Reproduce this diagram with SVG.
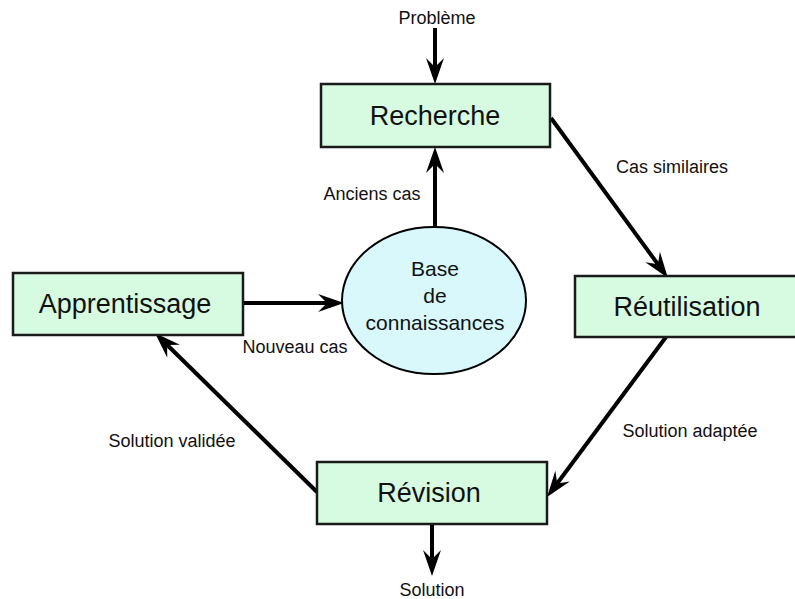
<svg xmlns="http://www.w3.org/2000/svg" width="795" height="599" viewBox="0 0 795 599">
<style>
.box{fill:#d6fbe0;stroke:#1a1a1a;stroke-width:2.5}
.ell{fill:#d8f8fc;stroke:#000;stroke-width:2}
.big{font-family:"Liberation Sans",Arial,sans-serif;font-size:27px;fill:#111;text-anchor:middle}
.mid{font-family:"Liberation Sans",Arial,sans-serif;font-size:21px;fill:#111;text-anchor:middle}
.lbl{font-family:"Liberation Sans",Arial,sans-serif;font-size:18px;fill:#111;text-anchor:middle}
.con{stroke:#000;stroke-width:4;fill:none;marker-end:url(#ah)}
</style>
<defs>
<marker id="ah" markerUnits="userSpaceOnUse" viewBox="-12 -10 28 20" refX="0" refY="0" markerWidth="28" markerHeight="20" orient="auto">
<path d="M15,0 L-11,-9 L-2,0 L-11,9 Z" fill="#000"/>
</marker>
</defs>
<rect width="795" height="599" fill="#fff"/>
<g id="connectors">
<line class="con" x1="435" y1="28" x2="435" y2="69"/>
<line class="con" x1="435" y1="227" x2="435" y2="162"/>
<line class="con" x1="551" y1="118" x2="659.1" y2="265.9"/>
<line class="con" x1="243" y1="303" x2="329" y2="303"/>
<line class="con" x1="666" y1="337" x2="556" y2="485"/>
<line class="con" x1="317" y1="492" x2="165.7" y2="343.5"/>
<line class="con" x1="432" y1="524" x2="432" y2="561"/>
</g>
<g id="recherche">
<rect class="box" x="321" y="84" width="229" height="63"/>
<text class="big" x="435" y="125">Recherche</text>
</g>
<g id="apprentissage">
<rect class="box" x="13" y="273" width="230" height="62"/>
<text class="big" x="125" y="313">Apprentissage</text>
</g>
<g id="reutilisation">
<rect class="box" x="575" y="276" width="224" height="61"/>
<text class="big" x="687" y="316">Réutilisation</text>
</g>
<g id="revision">
<rect class="box" x="317" y="462" width="230" height="62"/>
<text class="big" x="429" y="502">Révision</text>
</g>
<g id="base">
<ellipse class="ell" cx="434" cy="300.5" rx="92" ry="73.5"/>
<text class="mid" x="435" y="276">Base</text>
<text class="mid" x="435" y="303">de</text>
<text class="mid" x="435" y="330">connaissances</text>
</g>
<g id="labels">
<text class="lbl" x="437" y="24">Problème</text>
<text class="lbl" x="372" y="200">Anciens cas</text>
<text class="lbl" x="672" y="173">Cas similaires</text>
<text class="lbl" x="295" y="353">Nouveau cas</text>
<text class="lbl" x="172" y="447">Solution validée</text>
<text class="lbl" x="690" y="437">Solution adaptée</text>
<text class="lbl" x="432" y="596">Solution</text>
</g>
</svg>
